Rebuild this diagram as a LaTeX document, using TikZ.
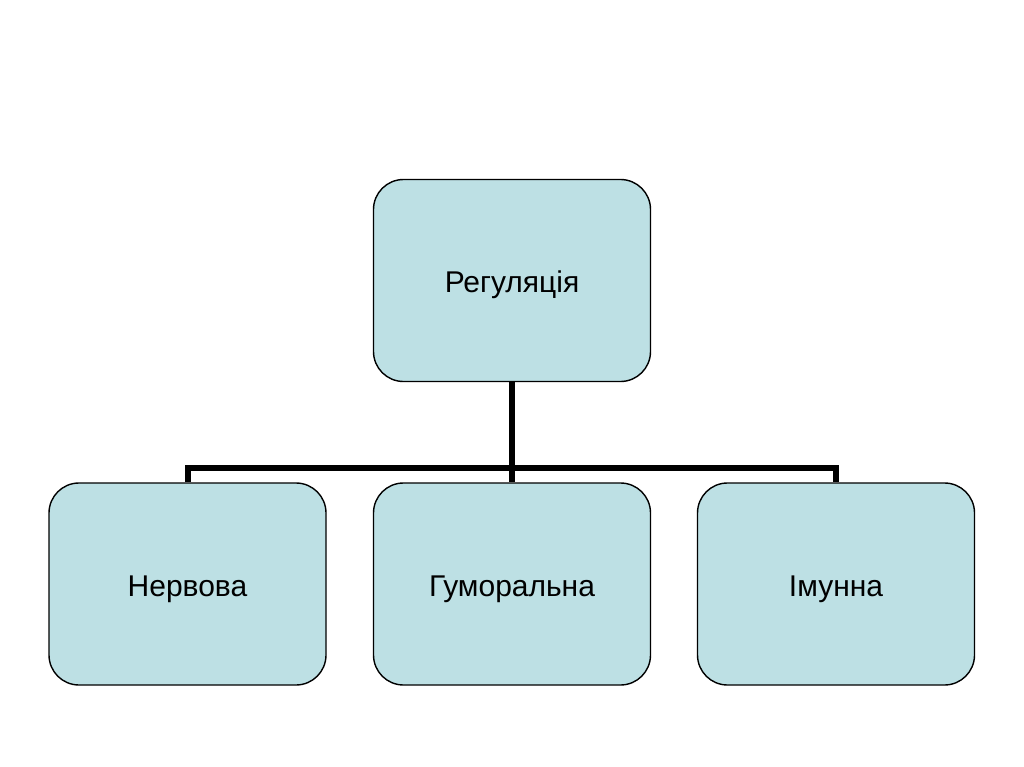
\documentclass[tikz,border=0pt]{standalone}
\usepackage{fontspec}
\setmainfont{Liberation Sans}
\definecolor{boxblue}{RGB}{189,224,228}
\tikzset{
  unit/.style={draw=black, line width=1.4pt, fill=boxblue, rounded corners=30pt,
    minimum width=277pt, minimum height=202pt, inner sep=0pt,
    text height=24pt, text depth=0pt,
    font=\fontsize{30}{35}\selectfont},
  bus/.style={line width=6pt, line join=miter}
}
\begin{document}
\begin{tikzpicture}[x=1pt, y=-1pt]
  \useasboundingbox (0,0) rectangle (1024,767);
  \path
    (512,280.5) coordinate (R)
    (512,468) coordinate (J)
    ;
  \node[unit] (reg) at (R) {Регуляція};
  \foreach \n/\x/\t in {nerv/187.5/Нервова, hum/512/Гуморальна, imun/836/Імунна}
    \node[unit] (\n) at (\x,584) {\t};
  % connectors
  \draw[bus] (reg.south) -- (hum.north);
  \draw[bus] (nerv.north) -- (nerv.north |- J) -- (imun.north |- J) -- (imun.north);
\end{tikzpicture}
\end{document}
